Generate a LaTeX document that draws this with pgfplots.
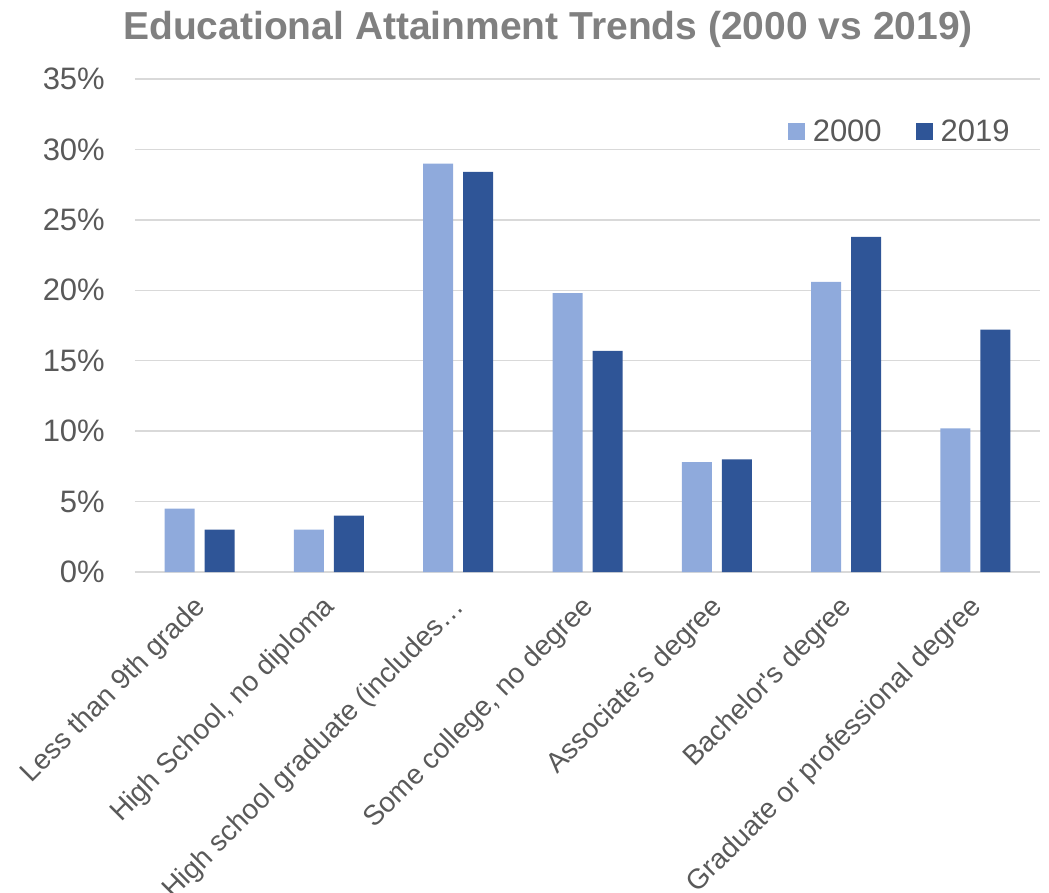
\documentclass[border=0pt]{standalone}
\usepackage{fontspec}
\setmainfont{Liberation Sans}
\usepackage{pgfplots}
\usepackage{pgfplotstable}
\pgfplotsset{compat=1.18}
\definecolor{cA}{HTML}{8FAADC}
\definecolor{cB}{HTML}{2F5597}
\definecolor{gridc}{HTML}{D9D9D9}
\definecolor{txt}{HTML}{595959}
\definecolor{ttl}{HTML}{808080}
\pgfplotstableread{
x a b
0 4.5 3.0
1 3.0 4.0
2 29.0 28.4
3 19.8 15.7
4 7.8 8.0
5 20.6 23.8
6 10.2 17.2
}\data
\begin{document}
\begin{tikzpicture}
\begin{axis}[
  name=ax,
  scale only axis, width=905bp, height=493bp,
  xmin=-0.5, xmax=6.5, ymin=0, ymax=35,
  ybar=10bp, bar width=30bp,
  axis line style={draw=none},
  major tick length=0pt,
  ymajorgrids, major grid style={draw=gridc, line width=1.5bp},
  ytick={0,5,...,35},
  yticklabels={0\%,5\%,10\%,15\%,20\%,25\%,30\%,35\%},
  yticklabel style={anchor=east, inner sep=0pt, xshift=-30bp, text=txt, font=\fontsize{31bp}{36bp}\selectfont},
  xtick={0,...,6},
  xticklabels={Less than 9th grade, {High School, no diploma}, High school graduate (includes…, {Some college, no degree}, Associate\textquotesingle s degree, Bachelor\textquotesingle s degree, Graduate or professional degree},
  xticklabel style={xshift=2bp, yshift=-31bp, rotate=45, anchor=east, inner sep=0pt, text=txt, font=\fontsize{28bp}{34bp}\selectfont},
  title={Educational Attainment Trends (2000 vs 2019)},
  title style={at={(0.4564,1.068)}, anchor=base, text=ttl, font=\fontsize{39bp}{46bp}\selectfont\bfseries},
  legend columns=2,
  legend style={at={(0.845,0.894)}, anchor=center, draw=none, fill=white,
    font=\fontsize{31bp}{36bp}\selectfont, text=txt, inner xsep=28bp, inner ysep=4bp,
    /tikz/every odd column/.style={column sep=6bp},
    /tikz/every even column/.style={column sep=32bp}},
  legend image code/.code={\fill[#1] (0bp,-8.5bp) rectangle (17bp,8.5bp);},
]
\addplot[fill=cA, draw=none] table[x=x,y=a]{\data};
\addplot[fill=cB, draw=none] table[x=x,y=b]{\data};
\legend{2000,2019}
\end{axis}
\pgfresetboundingbox
\path[use as bounding box] ([shift={(-135bp,-321bp)}]ax.south west) rectangle ([shift={(9bp,79bp)}]ax.north east);
\end{tikzpicture}
\end{document}
